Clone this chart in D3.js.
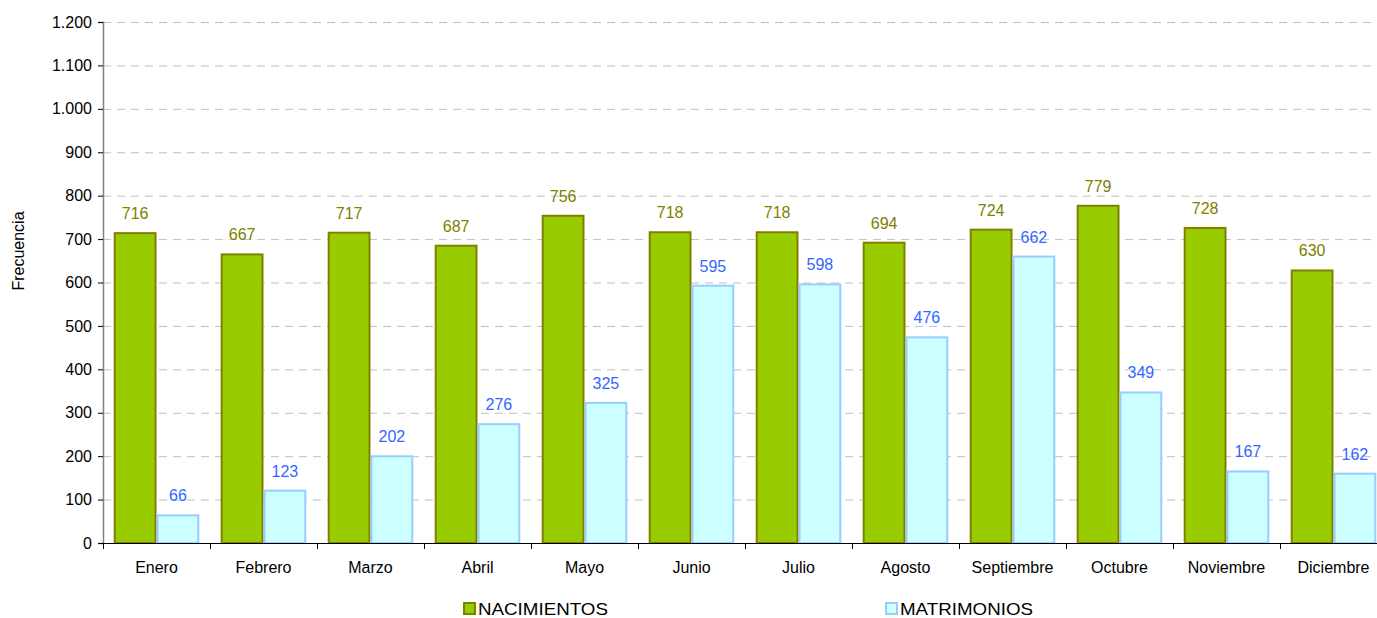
<!DOCTYPE html>
<html><head><meta charset="utf-8">
<script src="https://cdn.jsdelivr.net/npm/d3@7"></script>
<style>body{margin:0;background:#fff}svg{display:block;font-family:"Liberation Sans",Arial,sans-serif}</style>
</head><body>
<svg id="c" width="1377" height="618"></svg>
<script>
const months = ["Enero","Febrero","Marzo","Abril","Mayo","Junio","Julio","Agosto","Septiembre","Octubre","Noviembre","Diciembre"];
const nacimientos = [716,667,717,687,756,718,718,694,724,779,728,630];
const matrimonios = [66,123,202,276,325,595,598,476,662,349,167,162];
const yTicks = [0,100,200,300,400,500,600,700,800,900,1000,1100,1200];
const seriesNames = ["NACIMIENTOS","MATRIMONIOS"];

const svg = d3.select("#c");
const L = 103, R = 1387, T = 22, B = 543;
const x = d3.scaleBand().domain(months).range([L, R]).paddingInner(0.2).paddingOuter(0.1);
const x0 = d3.scaleBand().domain(months).range([L, R]);
const xs = d3.scaleBand().domain(seriesNames).range([0, x.bandwidth()]);
const y = d3.scaleLinear().domain([0,1200]).range([B, T]);
const fmt = v => d3.format(",")(v).replace(/,/g, ".");

// gridlines
svg.append("g").selectAll("line").data(yTicks.filter(d=>d>0)).join("line")
  .attr("x1", L).attr("x2", 1377).attr("y1", d=>y(d)+0.5).attr("y2", d=>y(d)+0.5)
  .attr("stroke", "#c0c0c0").attr("stroke-dasharray", "8,6");

// y axis
const ya = svg.append("g").attr("transform", `translate(${L},0)`)
  .call(d3.axisLeft(y).tickValues(yTicks).tickFormat(fmt).tickSize(5).tickPadding(6));
ya.select(".domain").attr("stroke", "#808080").attr("stroke-width", 1.5);
ya.selectAll(".tick line").attr("stroke", "#000");
ya.selectAll(".tick text").attr("font-size", 16).attr("fill", "#000").attr("font-family", "Liberation Sans, Arial, sans-serif");

// bars
const g = svg.append("g");
const series = [
  {name: seriesNames[0], vals: nacimientos, fill: "#99CC00", stroke: "#808000", lab: "#808000"},
  {name: seriesNames[1], vals: matrimonios, fill: "#CCFFFF", stroke: "#99CCFF", lab: "#3366FF"}
];
series.forEach(s => {
  g.selectAll(null).data(months).join("rect")
    .attr("x", (m)=> x(m) + xs(s.name) + 1)
    .attr("y", (m,i)=> y(s.vals[i]) + 1)
    .attr("width", xs.bandwidth() - 2)
    .attr("height", (m,i)=> y(0) - y(s.vals[i]) - 1)
    .attr("fill", s.fill).attr("stroke", s.stroke).attr("stroke-width", 2);
  g.selectAll(null).data(months).join("text")
    .attr("x", (m)=> x(m) + xs(s.name) + xs.bandwidth()/2)
    .attr("y", (m,i)=> y(s.vals[i]) - 13)
    .attr("text-anchor", "middle").attr("font-size", 16).attr("fill", s.lab)
    .text((m,i)=> fmt(s.vals[i]));
});

// x axis
const xa = svg.append("g").attr("transform", `translate(0,${B})`);
xa.append("line").attr("x1", L).attr("x2", 1377).attr("y1", 0.5).attr("y2", 0.5).attr("stroke", "#000");
xa.selectAll(".tk").data(months).join("line").attr("class","tk")
  .attr("x1", m=>x0(m)+0.5).attr("x2", m=>x0(m)+0.5).attr("y1", 0).attr("y2", 6).attr("stroke", "#000");
xa.selectAll(".lb").data(months).join("text").attr("class","lb")
  .attr("x", m=>x0(m)+x0.bandwidth()/2).attr("y", 30)
  .attr("text-anchor","middle").attr("font-size", 16).attr("fill","#000").text(m=>m);

// y label
svg.append("text").attr("transform", "translate(24,251) rotate(-90)")
  .attr("text-anchor","middle").attr("font-size", 16).text("Frecuencia");

// legend
const legX = [463, 885];
const legLen = [130, 133];
series.forEach((s,i) => {
  const lg = svg.append("g").attr("transform", `translate(${legX[i]},602)`);
  lg.append("rect").attr("x",1).attr("y",1).attr("width",11).attr("height",11)
    .attr("fill", s.fill).attr("stroke", s.stroke).attr("stroke-width",2);
  lg.append("text").attr("x", 15).attr("y", 13).attr("font-size", 17).attr("fill","#000")
    .attr("textLength", legLen[i]).attr("lengthAdjust", "spacingAndGlyphs").text(s.name);
});
</script>
</body></html>
